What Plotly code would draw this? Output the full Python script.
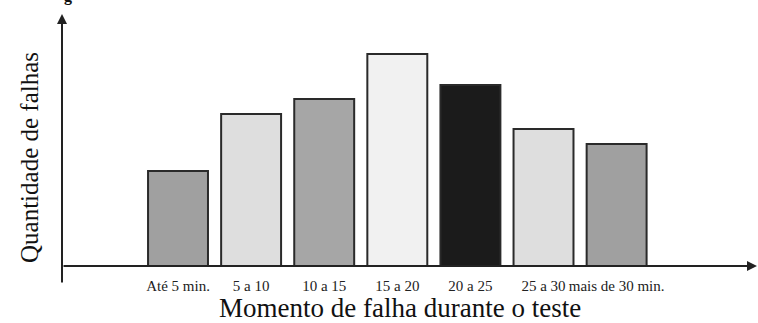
import plotly.graph_objects as go

categories = ["Até 5 min.", "5 a 10", "10 a 15", "15 a 20", "20 a 25", "25 a 30", "mais de 30 min."]
values = [95, 152, 167, 212, 181, 137, 122]
bar_colors = ["#a0a0a0", "#dedede", "#a6a6a6", "#f1f1f1", "#1b1b1b", "#dedede", "#a0a0a0"]
x_title = "Momento de falha durante o teste"
y_title = "Quantidade de falhas"

W, H = 758, 323
ML, MR, MT, MB = 62, 6, 14, 57
PW = W - ML - MR
PH = H - MT - MB
SERIF = "Liberation Serif, Times New Roman, serif"

fig = go.Figure(go.Bar(
    x=categories,
    y=values,
    width=0.82,
    marker=dict(color=bar_colors, line=dict(color="#2a2a2a", width=2)),
    hoverinfo="skip",
))

fig.update_layout(
    width=W, height=H,
    margin=dict(l=ML, r=MR, t=MT, b=MB),
    paper_bgcolor="white", plot_bgcolor="white",
    showlegend=False,
    xaxis=dict(
        range=[-1.587, 7.852],
        showline=False, showgrid=False, zeroline=False,
        ticks="", ticklabelstandoff=9,
        tickfont=dict(family=SERIF, size=15, color="#222"),
        fixedrange=True,
    ),
    yaxis=dict(
        range=[0, PH],
        showline=False, showgrid=False, zeroline=False,
        showticklabels=False, ticks="",
        fixedrange=True,
    ),
)

# axes with arrowheads
fig.add_annotation(x=0, y=1, xref="paper", yref="paper", text="", showarrow=True,
                   ax=0, ay=270, arrowhead=2, arrowsize=1, arrowwidth=2, arrowcolor="#222")
fig.add_annotation(x=(757 - ML) / PW, y=0, xref="paper", yref="paper", text="", showarrow=True,
                   ax=-(757 - ML), ay=0, arrowhead=2, arrowsize=1, arrowwidth=2, arrowcolor="#222")

# axis titles
fig.add_annotation(x=(400 - ML) / PW, y=(266 - 308) / PH, xref="paper", yref="paper",
                   text=x_title, showarrow=False, xanchor="center", yanchor="middle",
                   font=dict(family=SERIF, size=27, color="#111"))
fig.add_annotation(x=(29 - ML) / PW, y=(266 - 158) / PH, xref="paper", yref="paper",
                   text=y_title, showarrow=False, textangle=-90, xanchor="center", yanchor="middle",
                   font=dict(family=SERIF, size=25, color="#111"))

# clipped fragment of caption at the very top
fig.add_annotation(x=(68 - ML) / PW, y=(266 - 7) / PH, xref="paper", yref="paper",
                   text="<b>g</b>", showarrow=False, xanchor="center", yanchor="bottom",
                   font=dict(family=SERIF, size=16, color="#111"))

fig.write_html("out.html", config={"displayModeBar": False},
               post_script="document.body.style.margin='0';")
